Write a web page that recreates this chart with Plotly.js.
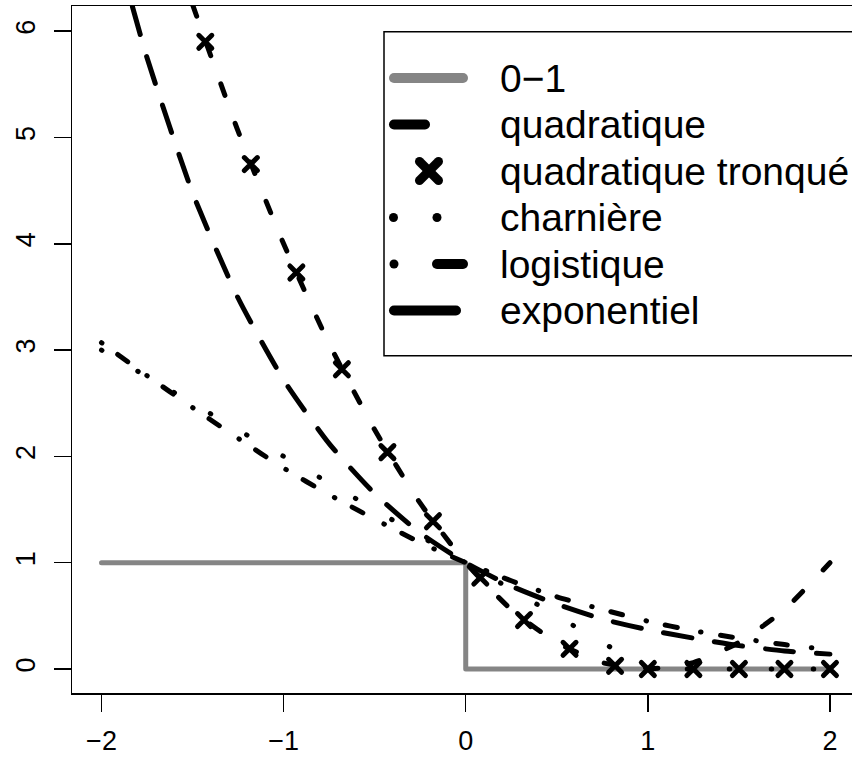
<!DOCTYPE html>
<html>
<head>
<meta charset="utf-8">
<script src="https://cdn.plot.ly/plotly-3.0.1.min.js"></script>
<style>
html, body { margin:0; padding:0; overflow:hidden; background:#fff; }
#chart { width:852px; height:761px; }
.js-line { stroke-linecap: round !important; stroke-linejoin: round !important; }
.scatterlayer .point { stroke-linecap: round !important; }
.shapelayer path { stroke-linecap: round !important; }
</style>
</head>
<body>
<div id="chart"></div>
<script>
// ---- data ----
const xTicks = [-2, -1, 0, 1, 2];
const yTicks = [0, 1, 2, 3, 4, 5, 6];

const legendLabels = ["0\u22121", "quadratique", "quadratique tronqué", "charnière", "logistique", "exponentiel"];

// 0-1 loss
const x01 = [-2, 0, 0, 2];
const y01 = [1, 1, 0, 0];

// quadratique
const xQuad = [-1.5, -1.25, -1, -0.75, -0.5, -0.25, 0, 0.25, 0.5, 0.75, 1, 1.25, 1.5, 1.75, 2];
const yQuad = [6.25, 5.06, 4, 3.06, 2.25, 1.56, 1, 0.56, 0.25, 0.06, 0, 0.06, 0.25, 0.56, 1];

// quadratique tronqué (crosses)
const xTronq = [-1.43, -1.18, -0.93, -0.68, -0.43, -0.18, 0.08, 0.32, 0.57, 0.82, 1, 1.25, 1.5, 1.75, 2];
const yTronq = [5.9, 4.75, 3.73, 2.82, 2.04, 1.39, 0.86, 0.46, 0.19, 0.03, 0, 0, 0, 0, 0];

// charnière
const xHinge = [-2, 1, 2];
const yHinge = [3, 0, 0];

// logistique
const xLogi = [-2, -1.75, -1.5, -1.25, -1, -0.75, -0.5, -0.25, 0, 0.25, 0.5, 0.75, 1, 1.25, 1.5, 1.75, 2];
const yLogi = [3.07, 2.76, 2.46, 2.17, 1.89, 1.64, 1.41, 1.19, 1, 0.83, 0.68, 0.56, 0.45, 0.36, 0.29, 0.23, 0.18];

// exponentiel
const xExp = [-1.83, -1.75, -1.5, -1.25, -1, -0.75, -0.5, -0.25, 0, 0.25, 0.5, 0.75, 1, 1.25, 1.5, 1.75, 2];
const yExp = [6.23, 5.75, 4.48, 3.49, 2.72, 2.12, 1.65, 1.28, 1, 0.78, 0.61, 0.47, 0.37, 0.29, 0.22, 0.17, 0.14];

// ---- styling / layout ----
const FONT = "Liberation Sans, Arial, Helvetica, sans-serif";
const GRAY = "#858585";
const W = 852, H = 761;
const M = {l: 72, r: 0, t: 6, b: 68};
const PW = W - M.l - M.r, PH = H - M.t - M.b;
const px = v => (v - M.l) / PW;     // pixel x -> paper
const py = v => (H - M.b - v) / PH; // pixel y -> paper

const traces = [
  {x: x01, y: y01, mode: "lines", line: {color: GRAY, width: 5}, hoverinfo: "skip"},
  {x: xQuad, y: yQuad, mode: "lines", line: {color: "#000", width: 5, dash: "12px,30px", shape: "spline", smoothing: 0.6}},
  {x: xTronq, y: yTronq, mode: "markers", marker: {symbol: "x-thin", size: 13, color: "#000", line: {color: "#000", width: 5}}},
  {x: xHinge, y: yHinge, mode: "lines", line: {color: "#000", width: 5, dash: "0.5px,41.5px"}},
  {x: xLogi, y: yLogi, mode: "lines", line: {color: "#000", width: 5, dash: "0.5px,19.5px,12px,24px", shape: "spline", smoothing: 0.6}},
  {x: xExp, y: yExp, mode: "lines", line: {color: "#000", width: 5, dash: "28.5px,23px", shape: "spline", smoothing: 0.6}}
];

// manual legend (R style)
const rowY = [78, 124.5, 171, 217.5, 264, 310.5];
const shapes = [];
const seg = (x0, x1, y, color, w) => shapes.push({type: "line", xref: "paper", yref: "paper",
  x0: px(x0), x1: px(x1), y0: py(y), y1: py(y), line: {color: color, width: w}});
const dot = (cx, cy, r) => shapes.push({type: "circle", xref: "paper", yref: "paper",
  x0: px(cx - r), x1: px(cx + r), y0: py(cy - r), y1: py(cy + r), fillcolor: "#000", line: {width: 0}});

shapes.push({type: "rect", xref: "paper", yref: "paper", x0: px(384), x1: px(900), y0: py(355.7), y1: py(31.7),
  line: {color: "#000", width: 1.5}, fillcolor: "#fff", layer: "above"});
seg(394, 463, rowY[0], GRAY, 10);
seg(394, 425, rowY[1], "#000", 10);
// cross
shapes.push({type: "line", xref: "paper", yref: "paper", x0: px(419.5), x1: px(438.5), y0: py(rowY[2] - 9.5), y1: py(rowY[2] + 9.5), line: {color: "#000", width: 9}});
shapes.push({type: "line", xref: "paper", yref: "paper", x0: px(419.5), x1: px(438.5), y0: py(rowY[2] + 9.5), y1: py(rowY[2] - 9.5), line: {color: "#000", width: 9}});
dot(393.5, rowY[3], 4.5);
dot(437, rowY[3], 4.5);
dot(394, rowY[4], 4.5);
seg(437, 463, rowY[4], "#000", 10);
seg(394, 456, rowY[5], "#000", 10);
shapes.forEach(s => { s.layer = "above"; });

const annotations = legendLabels.map((t, i) => ({
  text: t, xref: "paper", yref: "paper", x: px(498), y: py(rowY[i]),
  xanchor: "left", yanchor: "middle", showarrow: false,
  font: {family: FONT, size: 39, color: "#000"}
}));

const axisCommon = {
  showgrid: false, zeroline: false, showline: true, linecolor: "#000", linewidth: 1.5,
  ticks: "outside", ticklen: 17, tickwidth: 1.5, tickcolor: "#000",
  tickfont: {family: FONT, size: 27, color: "#000"}
};

const layout = {
  width: W, height: H, margin: M, showlegend: false,
  paper_bgcolor: "#fff", plot_bgcolor: "#fff",
  xaxis: Object.assign({}, axisCommon, {range: [-2.162, 2.121], tickmode: "array", tickvals: xTicks,
    mirror: true, ticklabelstandoff: 6}),
  yaxis: Object.assign({}, axisCommon, {range: [-0.2258, 6.237], tickmode: "array", tickvals: yTicks,
    tickangle: -90, mirror: false, ticklabelstandoff: 8}),
  shapes: shapes, annotations: annotations
};

Plotly.newPlot("chart", traces, layout, {staticPlot: true, displayModeBar: false});
</script>
</body>
</html>
